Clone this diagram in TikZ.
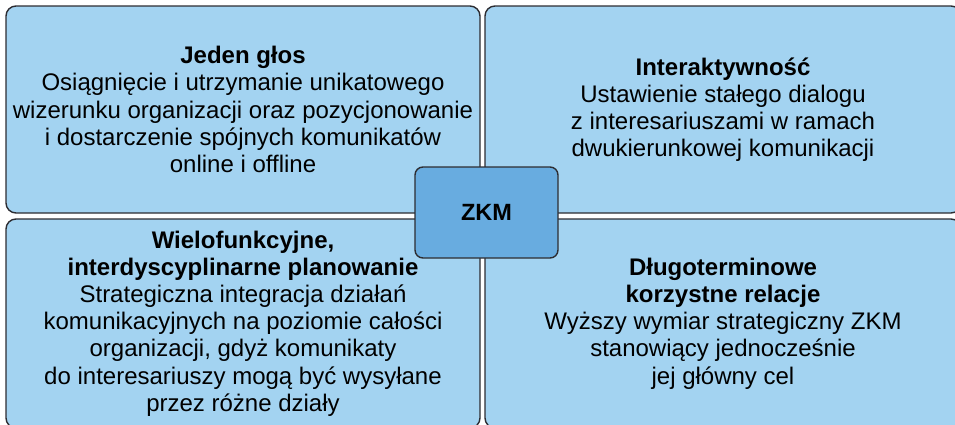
\documentclass[tikz,border=0pt]{standalone}
\usepackage{fontspec}
\setmainfont{Liberation Sans}
\definecolor{boxfill}{RGB}{163,211,241}
\definecolor{zkmfill}{RGB}{104,172,224}
\definecolor{boxline}{RGB}{45,45,50}
\tikzset{
  quad/.style={draw=boxline, line width=1.4pt, fill=boxfill, rounded corners=10pt,
    align=center, inner sep=0pt, font=\fontsize{24}{27.2}\selectfont},
  hub/.style={draw=boxline, line width=1.4pt, fill=zkmfill, rounded corners=8pt,
    inner sep=0pt, minimum width=143pt, minimum height=91pt,
    font=\fontsize{23.5}{27}\selectfont\bfseries}
}
\begin{document}
\begin{tikzpicture}[x=1pt,y=-1pt]
\useasboundingbox (0,0) rectangle (955,424);
\clip (0,0) rectangle (955,424);
\node[quad, minimum width=474pt, minimum height=207pt] (tl) at (243,109.5)
  {\textbf{Jeden głos}\\Osiągnięcie i utrzymanie unikatowego\\wizerunku organizacji oraz pozycjonowanie\\i dostarczenie spójnych komunikatów\\online i offline};
\node[quad, minimum width=476pt, minimum height=207pt] (tr) at (723,109.5)
  {\textbf{Interaktywność}\\Ustawienie stałego dialogu\\z interesariuszami w ramach\\dwukierunkowej komunikacji};
\node[quad, minimum width=474pt, minimum height=209pt] (bl) at (243,323.5)
  {\textbf{Wielofunkcyjne,}\\\textbf{interdyscyplinarne planowanie}\\Strategiczna integracja działań\\komunikacyjnych na poziomie całości\\organizacji, gdyż komunikaty\\do interesariuszy mogą być wysyłane\\przez różne działy};
\node[quad, minimum width=476pt, minimum height=209pt] (br) at (723,323.5)
  {\textbf{Długoterminowe}\\\textbf{korzystne relacje}\\Wyższy wymiar strategiczny ZKM\\stanowiący jednocześnie\\jej główny cel};
\node[hub] (zkm) at (486.5,212.5) {ZKM};
\end{tikzpicture}
\end{document}
